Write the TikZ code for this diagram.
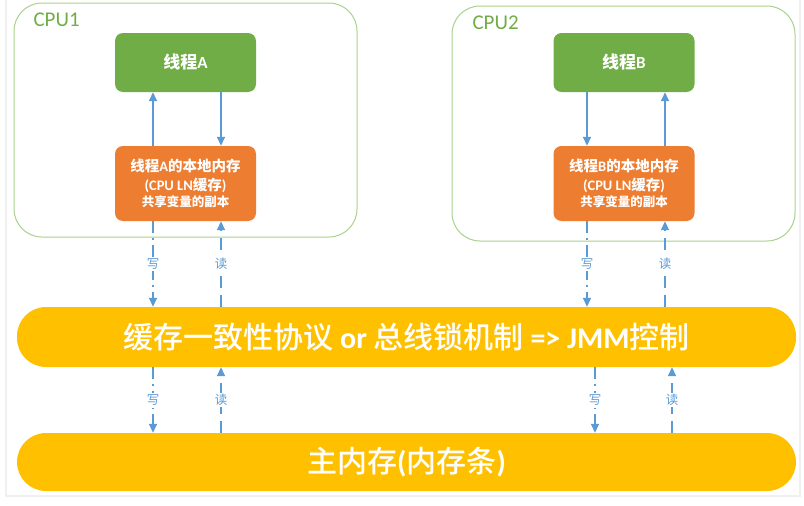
\documentclass[tikz,border=0pt]{standalone}
\usepackage{fontspec}
\setmainfont{Carlito}
\newfontfamily\cjk{Noto Sans CJK SC}
\newfontfamily\cjkmed{Noto Sans CJK SC Medium}
\newcommand{\zh}[1]{{\cjk #1}}
\newcommand{\zhm}[1]{{\cjkmed\mdseries #1}}
\usetikzlibrary{arrows.meta}
\definecolor{thrgreen}{HTML}{70AD47}
\definecolor{cpuline}{HTML}{A9D18E}
\definecolor{memorange}{HTML}{ED7D31}
\definecolor{busyellow}{HTML}{FFC000}
\definecolor{arrblue}{HTML}{5B9BD5}
\begin{document}
\begin{tikzpicture}[x=1pt,y=-1pt]
    \tikzstyle{cpu}=[draw=cpuline, line width=1pt, rounded corners=28pt, inner sep=0pt, minimum width=343pt]
    \tikzstyle{thread}=[fill=thrgreen, text=white, rounded corners=8pt, minimum width=141pt, minimum height=59pt, inner sep=0pt, font=\bfseries\fontsize{17}{18}\selectfont]
    \tikzstyle{local}=[fill=memorange, text=white, rounded corners=8pt, minimum width=141pt, minimum height=75pt, inner sep=0pt, align=center, font=\bfseries\fontsize{14.5}{18.5}\selectfont]
    \tikzstyle{bus}=[fill=busyellow, text=white, rounded corners=29pt, minimum width=779pt, inner sep=0pt, font=\bfseries\fontsize{30}{32}\selectfont]
    \tikzstyle{rw}=[arrblue, line width=1.5pt, -{Triangle[length=9pt,width=8pt]}]
    \tikzstyle{wr}=[rw, dash pattern=on 12pt off 5pt on 1.5pt off 5pt]
    \tikzstyle{rd}=[rw, dash pattern=on 12pt off 7pt]
    \tikzstyle{lbl}=[fill=white, text=arrblue, inner sep=1.5pt, font=\cjk\fontsize{12.5}{12.5}\selectfont]
    \useasboundingbox (0,0) rectangle (804,506);
    \draw [black!6, line width=1.2pt] (6,0) -- (6,496) -- (800,496) -- (800,0);
    % CPU boxes
    \node [cpu, minimum height=234pt] (cpua) at (185.5,120) {};
    \node [anchor=base west, text=thrgreen, font=\fontsize{21}{21}\selectfont] (cpual) at (30,26) {CPU1};
    \node [cpu, minimum height=235pt] (cpub) at (623.5,123.5) {};
    \node [anchor=base west, text=thrgreen, font=\fontsize{21}{21}\selectfont] (cpubl) at (469,29) {CPU2};
    % threads and local memory
    \node [thread] (ta) at (185.5,62.5) {\zh{线程}A};
    \node [local] (la) at (185.5,183.5) {\zh{线程}A\zh{的本地内存}\\(CPU LN\zh{缓存})\\[-2pt]{\fontsize{12.5}{13}\selectfont\zh{共享变量的副本}}};
    \node [thread] (tb) at (624,62.5) {\zh{线程}B};
    \node [local] (lb) at (624,183.5) {\zh{线程}B\zh{的本地内存}\\(CPU LN\zh{缓存})\\[-2pt]{\fontsize{12.5}{13}\selectfont\zh{共享变量的副本}}};
    % buses
    \node [bus, minimum height=60pt] (bus) at (406.5,337) {\zhm{缓存一致性协议} or \zhm{总线锁机制} => JMM\zhm{控制}};
    \node [bus, minimum height=58pt] (mem) at (406.5,462) {\zhm{主内存}(\zhm{内存条})};
    % arrow columns
    \coordinate (wa) at (153,0);
    \coordinate (ra) at (221,0);
    \coordinate (wb) at (587,0);
    \coordinate (rb) at (665,0);
    \coordinate (wc) at (595,0);
    \coordinate (rc) at (672,0);
    \draw [rw] (wa |- la.north) -- (wa |- ta.south);
    \draw [rw] (ra |- ta.south) -- (ra |- la.north);
    \draw [rw] (wb |- tb.south) -- (wb |- lb.north);
    \draw [rw] (rb |- lb.north) -- (rb |- tb.south);
    \draw [wr] (wa |- la.south) -- (wa |- bus.north) node [lbl, midway] {写};
    \draw [rd] (ra |- bus.north) -- (ra |- la.south) node [lbl, midway] {读};
    \draw [wr] (wb |- lb.south) -- (wb |- bus.north) node [lbl, midway] {写};
    \draw [rd] (rb |- bus.north) -- (rb |- lb.south) node [lbl, midway] {读};
    \draw [wr] (wa |- bus.south) -- (wa |- mem.north) node [lbl, midway] {写};
    \draw [rd] (ra |- mem.north) -- (ra |- bus.south) node [lbl, midway] {读};
    \draw [wr] (wc |- bus.south) -- (wc |- mem.north) node [lbl, midway] {写};
    \draw [rd] (rc |- mem.north) -- (rc |- bus.south) node [lbl, midway] {读};
\end{tikzpicture}
\end{document}
